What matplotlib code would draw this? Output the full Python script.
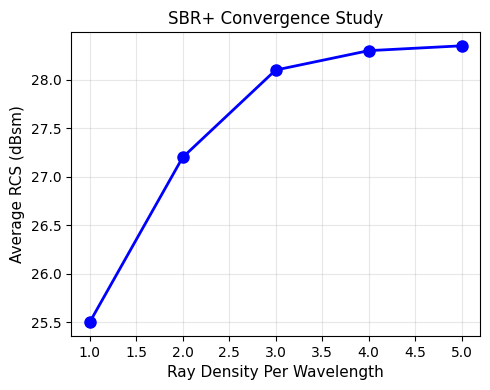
import matplotlib
matplotlib.use("Agg")
import matplotlib.pyplot as plt

ray_density = [1.0, 2.0, 3.0, 4.0, 5.0]
avg_rcs = [25.5, 27.2, 28.1, 28.3, 28.35]

fig, ax = plt.subplots(figsize=(4.9, 3.9), dpi=100)
ax.plot(ray_density, avg_rcs, "b-o", linewidth=2, markersize=8)
ax.set_xlabel("Ray Density Per Wavelength", fontsize=11)
ax.set_ylabel("Average RCS (dBsm)", fontsize=11)
ax.set_title("SBR+ Convergence Study", fontsize=12)
ax.grid(True, alpha=0.3)
fig.subplots_adjust(left=0.145, right=0.98, top=0.918, bottom=0.138)
fig.savefig("out.png", dpi=100)
